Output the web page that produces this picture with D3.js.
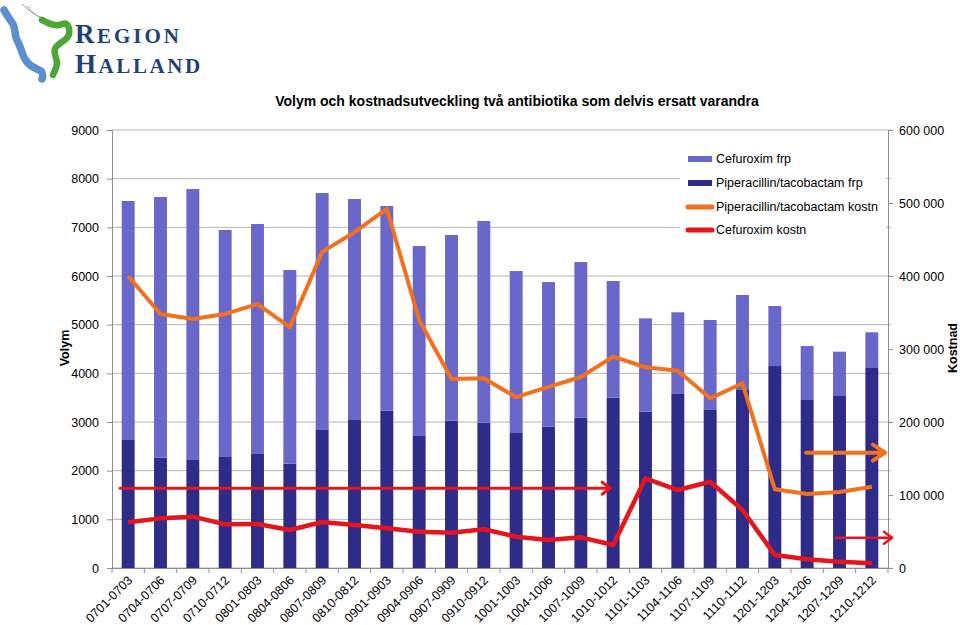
<!DOCTYPE html>
<html><head><meta charset="utf-8">
<script src="https://cdn.jsdelivr.net/npm/d3@7"></script>
<style>body{margin:0;background:#fff}svg{display:block;font-family:"Liberation Sans",Arial,sans-serif}</style>
</head><body>
<svg id="c" width="960" height="625"></svg>
<script>
const categories=["0701-0703","0704-0706","0707-0709","0710-0712","0801-0803","0804-0806","0807-0809","0810-0812","0901-0903","0904-0906","0907-0909","0910-0912","1001-1003","1004-1006","1007-1009","1010-1012","1101-1103","1104-1106","1107-1109","1110-1112","1201-1203","1204-1206","1207-1209","1210-1212"];
// Piperacillin/tacobactam frp (bottom, dark)
const pipFrp=[2630,2266,2233,2295,2356,2144,2836,3055,3233,2712,3027,2986,2788,2903,3088,3500,3212,3589,3260,3671,4150,3452,3534,4123];
// Total volume (top of stack) -> Cefuroxim frp = total - pip
const totalFrp=[7541,7623,7787,6945,7068,6123,7705,7582,7438,6616,6842,7130,6102,5876,6287,5897,5130,5254,5096,5610,5383,4561,4445,4843];
const cefFrp=totalFrp.map((t,i)=>t-pipFrp[i]);
const pipKostn=[400000,348000,341000,348000,361600,330000,433000,460000,491800,339700,259000,260000,234000,248000,261600,289500,275000,270300,232400,253000,107800,101400,104000,111400];
const cefKostn=[62600,68000,70300,59800,60300,52000,63000,58900,54400,49700,48400,53000,42900,38400,42000,31500,122800,106800,118200,79500,17800,11900,8700,6400];
const leftTicks=[0,1000,2000,3000,4000,5000,6000,7000,8000,9000];
const rightTicks=[0,100000,200000,300000,400000,500000,600000];
const seriesNames=["Cefuroxim frp","Piperacillin/tacobactam frp","Piperacillin/tacobactam kostn","Cefuroxim kostn"];
const colors={cef:"#6a67cb",pip:"#2e2c88",pipK:"#f2711c",cefK:"#e8141b"};
const title="Volym och kostnadsutveckling två antibiotika som delvis ersatt varandra";

const svg=d3.select("#c");
const L=112,R=888,T=130,B=568;
const x=d3.scaleBand().domain(categories).range([L,R]).paddingInner(0.6).paddingOuter(0.3);
const yL=d3.scaleLinear().domain([0,9000]).range([B,T]);
const yR=d3.scaleLinear().domain([0,600000]).range([B,T]);
const cx=c=>x(c)+x.bandwidth()/2;

// Logo
const logo=svg.append("g");
logo.append("path").attr("d","M22,4 C28,10 34,15 42,18").attr("fill","none").attr("stroke","#9aa0a0").attr("stroke-width",1);
logo.append("path").attr("d","M27,6 C32,12 38,17 44,20").attr("fill","none").attr("stroke","#9aa0a0").attr("stroke-width",1);
logo.append("path").attr("d","M4,10 C6,14 9,18 13,24 C16,30 14,36 18,42 C22,50 22,56 27,62 C31,67 37,69 41,71 C43,73 43,76 42,79")
  .attr("fill","none").attr("stroke","#5b8fd0").attr("stroke-width",7.5).attr("stroke-linecap","round").attr("stroke-linejoin","round");
logo.append("path").attr("d","M42,20 C50,24 56,27 62,24 C68,22 70,28 69,34 C68,40 60,42 56,47 C52,52 57,58 57,63 C57,68 54,72 53,75")
  .attr("fill","none").attr("stroke","#4ea636").attr("stroke-width",6.5).attr("stroke-linecap","round").attr("stroke-linejoin","round");
const logoFont="'Liberation Serif','DejaVu Serif',serif";
const lt1=logo.append("text").attr("x",75).attr("y",43).attr("fill","#1f4177").attr("font-weight","bold").attr("font-family",logoFont);
lt1.append("tspan").attr("font-size",27).attr("letter-spacing",2.5).text("R");
lt1.append("tspan").attr("font-size",21).attr("letter-spacing",3).text("EGION");
const lt2=logo.append("text").attr("x",75).attr("y",73).attr("fill","#1f4177").attr("font-weight","bold").attr("font-family",logoFont);
lt2.append("tspan").attr("font-size",27).attr("letter-spacing",2.5).text("H");
lt2.append("tspan").attr("font-size",21).attr("letter-spacing",2.6).text("ALLAND");

// Title
svg.append("text").attr("x",517).attr("y",106).attr("text-anchor","middle").attr("font-weight","bold").attr("font-size",14).text(title);

// Gridlines
svg.append("g").selectAll("line").data(leftTicks).join("line")
  .attr("x1",L).attr("x2",R+3).attr("y1",d=>yL(d)).attr("y2",d=>yL(d)).attr("stroke","#b5b5b5").attr("stroke-width",1);

// Bars
const bars=svg.append("g");
bars.selectAll(".p").data(categories).join("rect").attr("x",c=>x(c)).attr("width",x.bandwidth())
  .attr("y",(c,i)=>yL(pipFrp[i])).attr("height",(c,i)=>B-yL(pipFrp[i])).attr("fill",colors.pip);
bars.selectAll(".c").data(categories).join("rect").attr("x",c=>x(c)).attr("width",x.bandwidth())
  .attr("y",(c,i)=>yL(pipFrp[i]+cefFrp[i])).attr("height",(c,i)=>yL(pipFrp[i])-yL(pipFrp[i]+cefFrp[i])).attr("fill",colors.cef);

// Axes
const gL=svg.append("g").attr("transform",`translate(${L},0)`).call(d3.axisLeft(yL).tickValues(leftTicks).tickSize(5).tickPadding(8).tickFormat(d3.format("d")));
const gR=svg.append("g").attr("transform",`translate(${R},0)`).call(d3.axisRight(yR).tickValues(rightTicks).tickSize(5).tickPadding(6).tickFormat(d=>d3.format(",")(d).replace(/,/g," ")));
const gX=svg.append("g").attr("transform",`translate(0,${B})`).call(d3.axisBottom(x).tickSize(0).tickFormat(""));
// x ticks at band boundaries
svg.append("g").selectAll("line").data(d3.range(categories.length+1)).join("line")
  .attr("x1",i=>L+i*x.step()).attr("x2",i=>L+i*x.step()).attr("y1",B).attr("y2",B+5).attr("stroke","#909090");
[gL,gR,gX].forEach(g=>{g.select(".domain").attr("stroke","#909090");g.selectAll(".tick line").attr("stroke","#909090");
  g.selectAll("text").attr("font-size",12.5).attr("fill","#000").attr("font-family","'Liberation Sans',Arial,sans-serif");});
svg.append("g").selectAll("text").data(categories).join("text")
  .attr("transform",c=>`translate(${cx(c)+5},${B+13}) rotate(-45)`).attr("text-anchor","end").attr("font-size",12.5).text(c=>c);

// Axis titles
svg.append("text").attr("transform","translate(69,348) rotate(-90)").attr("text-anchor","middle").attr("font-weight","bold").attr("font-size",12.5).text("Volym");
svg.append("text").attr("transform","translate(957,348) rotate(-90)").attr("text-anchor","middle").attr("font-weight","bold").attr("font-size",12.5).text("Kostnad");

// Lines
const lineGen=d3.line().x((d,i)=>cx(categories[i])).y(d=>yR(d));
svg.append("path").attr("d",lineGen(pipKostn)).attr("fill","none").attr("stroke",colors.pipK).attr("stroke-width",4).attr("stroke-linejoin","round");
svg.append("path").attr("d",lineGen(cefKostn)).attr("fill","none").attr("stroke",colors.cefK).attr("stroke-width",4.5).attr("stroke-linejoin","round");

// Annotation arrows
function arrow(x1,x2,y,col,w,hl,hh){
  const g=svg.append("g").attr("fill","none").attr("stroke",col).attr("stroke-width",w).attr("stroke-linecap","round").attr("stroke-linejoin","round");
  g.append("line").attr("x1",x1).attr("x2",x2).attr("y1",y).attr("y2",y);
  g.append("path").attr("d",`M${x2-hl},${y-hh} L${x2},${y} L${x2-hl},${y+hh}`);
}
arrow(cx(categories[0])-8,cx(categories[15])-3,yL(1640),colors.cefK,3,8,6);
arrow(cx(categories[21])-1,R-3,yR(158000),colors.pipK,4,12,8);
arrow(cx(categories[22])-4,R+4,yR(41500),colors.cefK,2.5,8,6);

// Legend
const lg=svg.append("g");
lg.append("rect").attr("x",680).attr("y",138).attr("width",206).attr("height",112).attr("fill","#fff");
const ly=[159,183,207,230];
seriesNames.forEach((n,i)=>{
  if(i<2) lg.append("rect").attr("x",688).attr("y",ly[i]-3).attr("width",24).attr("height",6).attr("fill",i===0?colors.cef:colors.pip);
  else lg.append("line").attr("x1",688).attr("x2",712).attr("y1",ly[i]).attr("y2",ly[i]).attr("stroke",i===2?colors.pipK:colors.cefK).attr("stroke-width",5).attr("stroke-linecap","round");
  lg.append("text").attr("x",716).attr("y",ly[i]+4).attr("font-size",12.5).text(n);
});
</script>
</body></html>
